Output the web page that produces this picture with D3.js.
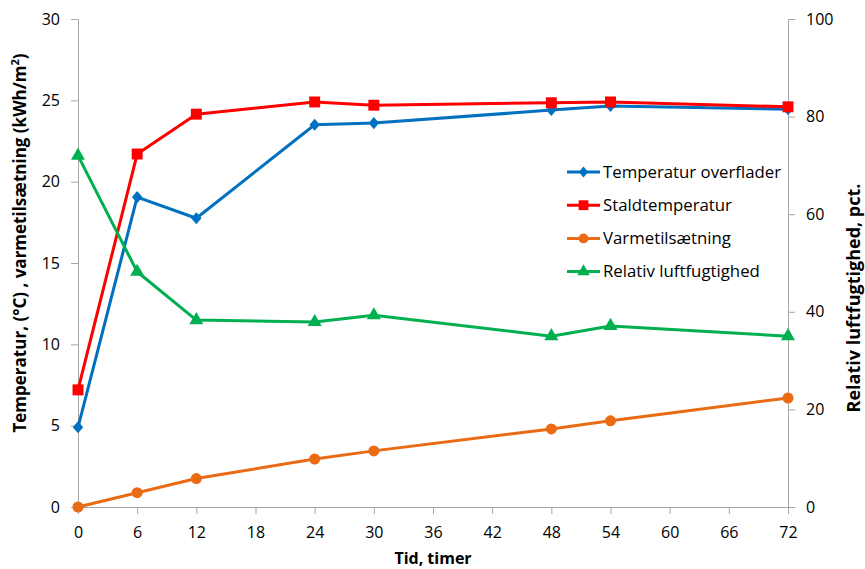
<!DOCTYPE html>
<html><head><meta charset="utf-8">
<script src="https://cdn.jsdelivr.net/npm/d3@7"></script>
<style>body{margin:0;background:#fff}svg{display:block}text{font-family:"Open Sans",sans-serif}</style>
</head><body><svg id="c" width="865" height="569"></svg>
<script>
const hours = [0, 6, 12, 24, 30, 48, 54, 72];
const tempOverflader = [4.9, 19.05, 17.75, 23.5, 23.6, 24.4, 24.65, 24.45];
const staldtemperatur = [7.2, 21.7, 24.15, 24.9, 24.7, 24.85, 24.9, 24.6];
const varmetilsaetning = [0, 0.88, 1.75, 2.95, 3.45, 4.8, 5.3, 6.7];
const relLuft = [72, 48.2, 38.3, 37.9, 39.3, 35.0, 37.1, 35.0];
const xTicks = [0, 6, 12, 18, 24, 30, 36, 42, 48, 54, 60, 66, 72];
const leftTicks = [0, 5, 10, 15, 20, 25, 30];
const rightTicks = [0, 20, 40, 60, 80, 100];
const seriesNames = ["Temperatur overflader", "Staldtemperatur", "Varmetilsætning", "Relativ luftfugtighed"];

const svg = d3.select("#c");
const L = 78, R = 788, T = 19, B = 507;
const x = d3.scaleLinear().domain([0, 72]).range([L, R]);
const yL = d3.scaleLinear().domain([0, 30]).range([B, T]);
const yR = d3.scaleLinear().domain([0, 100]).range([B, T]);
const axisColor = "#a6a6a6";

function styleAxis(g){
  g.select(".domain").attr("stroke", axisColor).attr("stroke-width", 1);
  g.selectAll(".tick line").attr("stroke", axisColor);
  g.selectAll(".tick text").attr("fill", "#000").style("font-size", "16px").style("font-family", '"Open Sans",sans-serif');
}
svg.append("g").attr("transform", `translate(0,${B})`)
  .call(d3.axisBottom(x).tickValues(xTicks).tickSize(7).tickSizeOuter(0).tickPadding(13))
  .call(styleAxis);
svg.append("g").attr("transform", `translate(${L},0)`)
  .call(d3.axisLeft(yL).tickValues(leftTicks).tickSize(7).tickSizeOuter(0).tickPadding(11))
  .call(styleAxis);
svg.append("g").attr("transform", `translate(${R},0)`)
  .call(d3.axisRight(yR).tickValues(rightTicks).tickSize(7).tickSizeOuter(0).tickPadding(11))
  .call(styleAxis);

const series = [
  {name: seriesNames[0], vals: tempOverflader, y: yL, color: "#0070C0", sym: "diamond", size: 70},
  {name: seriesNames[1], vals: staldtemperatur, y: yL, color: "#FF0000", sym: d3.symbolSquare, size: 120},
  {name: seriesNames[2], vals: varmetilsaetning, y: yL, color: "#EA6B14", sym: d3.symbolCircle, size: 95},
  {name: seriesNames[3], vals: relLuft, y: yR, color: "#00B050", sym: d3.symbolTriangle, size: 85},
];
const diamond = {draw(ctx, size){ const w = Math.sqrt(size)*0.62, h = Math.sqrt(size)*0.72;
  ctx.moveTo(0,-h); ctx.lineTo(w,0); ctx.lineTo(0,h); ctx.lineTo(-w,0); ctx.closePath(); }};
const symOf = s => s.sym === "diamond" ? diamond : s.sym;

series.forEach(s => {
  const pts = hours.map((h,i) => [x(h), s.y(s.vals[i])]);
  svg.append("path").attr("d", d3.line()(pts)).attr("fill","none")
    .attr("stroke", s.color).attr("stroke-width", 3).attr("stroke-linejoin","round");
  svg.append("g").selectAll("path").data(pts).join("path")
    .attr("transform", d => `translate(${d[0]},${d[1]})`)
    .attr("d", d3.symbol(symOf(s), s.size)).attr("fill", s.color);
});

// legend
const lg = svg.append("g");
series.forEach((s,i) => {
  const yy = 172 + i*33.2;
  lg.append("line").attr("x1", 567).attr("x2", 600).attr("y1", yy).attr("y2", yy)
    .attr("stroke", s.color).attr("stroke-width", 3);
  lg.append("path").attr("transform", `translate(583.5,${yy})`)
    .attr("d", d3.symbol(symOf(s), s.size*0.8)).attr("fill", s.color);
  lg.append("text").attr("x", 603).attr("y", yy).attr("dy", "0.35em")
    .style("font-size", "16.8px").text(s.name);
});

// axis titles
const lt = svg.append("text").attr("transform", `translate(26,243) rotate(-90)`).attr("text-anchor","middle")
  .style("font-size","17px").style("font-weight","bold");
lt.append("tspan").text("Temperatur, (°C) , varmetilsætning (kWh/m");
lt.append("tspan").attr("dy","-7").style("font-size","11px").text("2");
lt.append("tspan").attr("dy","7").text(")");
svg.append("text").attr("transform", `translate(860,298) rotate(-90)`).attr("text-anchor","middle")
  .style("font-size","18px").style("font-weight","bold").text("Relativ luftfugtighed, pct.");
svg.append("text").attr("x", 433).attr("y", 564).attr("text-anchor","middle")
  .style("font-size","16px").style("font-weight","bold").text("Tid, timer");
</script></body></html>
